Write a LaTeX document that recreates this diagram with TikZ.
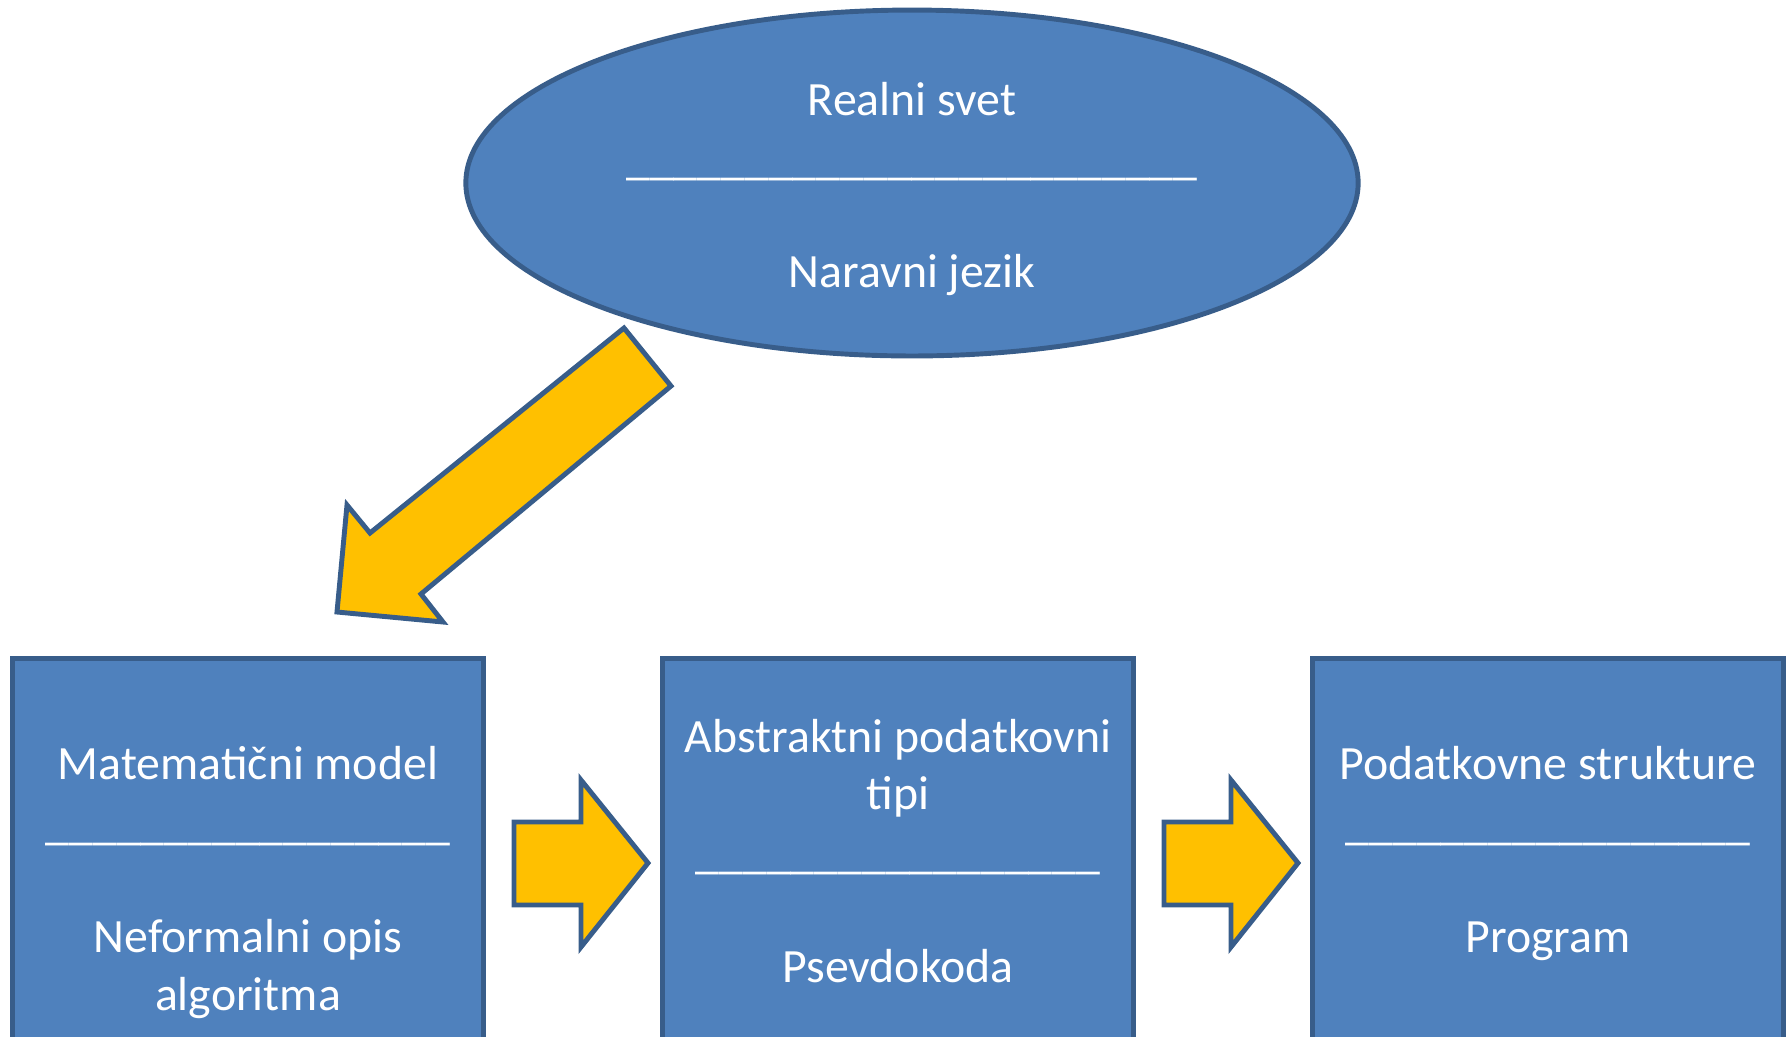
\documentclass[tikz,border=0pt]{standalone}
\usepackage{fontspec}
\setmainfont{Carlito}
\usetikzlibrary{shapes.geometric}

\definecolor{modra}{HTML}{4F81BD}
\definecolor{robmodra}{HTML}{385D8A}
\definecolor{rumena}{HTML}{FFC000}

\begin{document}
\begin{tikzpicture}[x=0.02cm, y=-0.02cm]
        \tikzstyle{every node}=[text=white, font=\fontsize{27.2}{32.8}\selectfont]
        \tikzstyle{blok}=[draw=robmodra, fill=modra, line width=2.8pt, minimum width=9.42cm, minimum height=8.2cm]
        \tikzstyle{puscica}=[draw=robmodra, fill=rumena, line width=2.8pt, line join=miter]
        \tikzstyle{vrstica}=[anchor=base, inner sep=0pt]

        \useasboundingbox (0,0) rectangle (1789,1036);
        \clip (0,0) rectangle (1789,1036);

        % zgoraj
        \node[ellipse, draw=robmodra, fill=modra, line width=2.8pt, minimum width=17.85cm, minimum height=6.92cm](svet) at (912,183){};
        \node[vrstica](svet1) at (912,115){Realni svet};
        \node[vrstica](svet2) at (912,174){\foreach \i in {1,...,24}{\_}};
        \node[vrstica](svet3) at (912,287){Naravni jezik};

        % bloki
        \node[blok](mat) at (248,863){};
        \node[blok](adt) at (898,863){};
        \node[blok](pod) at (1548,863){};

        \node[vrstica](mat1) at (248,779){Matematični model};
        \node[vrstica](mat2) at (248,839){\foreach \i in {1,...,17}{\_}};
        \node[vrstica](mat3) at (248,952){Neformalni opis};
        \node[vrstica](mat4) at (248,1010){algoritma};

        \node[vrstica](adt1) at (898,752){Abstraktni podatkovni};
        \node[vrstica](adt2) at (898,809){tipi};
        \node[vrstica](adt3) at (898,868){\foreach \i in {1,...,17}{\_}};
        \node[vrstica](adt4) at (898,982){Psevdokoda};

        \node[vrstica](pod1) at (1548,779){Podatkovne strukture};
        \node[vrstica](pod2) at (1548,839){\foreach \i in {1,...,17}{\_}};
        \node[vrstica](pod3) at (1548,952){Program};

        % puscice
        \draw[puscica] (624,328) -- (671,386) -- (421,594) -- (443,622) -- (337,612) -- (347,505) -- (370,533) -- cycle;
        \foreach \dx in {0,650}{
            \draw[puscica, xshift=\dx*0.02cm] (514,822) -- (581,822) -- (581,780) -- (648,863) -- (581,947) -- (581,905) -- (514,905) -- cycle;
        }
    \end{tikzpicture}
\end{document}
